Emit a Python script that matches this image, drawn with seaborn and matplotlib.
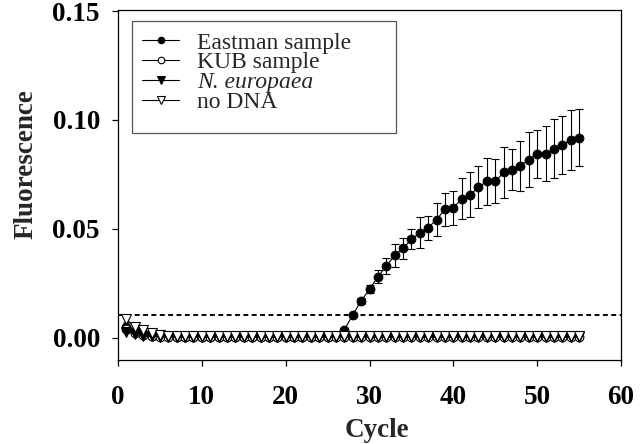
import matplotlib
matplotlib.use("Agg")
import matplotlib.pyplot as plt
from matplotlib.patches import Rectangle
import seaborn as sns

# cycles 1..55
cycles = list(range(1, 56))

eastman = [0.0050, 0.0030, 0.0020, 0.0010, 0.0008, 0.0006, 0.0005, 0.0005, 0.0005, 0.0005,
           0.0005, 0.0005, 0.0005, 0.0005, 0.0005, 0.0005, 0.0005, 0.0005, 0.0005, 0.0005,
           0.0005, 0.0005, 0.0005, 0.0005, 0.0005, 0.0006, 0.0037, 0.0105, 0.0169, 0.0224,
           0.0280, 0.0329, 0.0378, 0.0410, 0.0452, 0.0482, 0.0505, 0.0543, 0.0589, 0.0595,
           0.0639, 0.0657, 0.0692, 0.0718, 0.0718, 0.0759, 0.0772, 0.0790, 0.0818, 0.0845,
           0.0845, 0.0868, 0.0886, 0.0909, 0.0918]
eastman_err = [0.0010, 0.0006, 0.0004, 0.0003, 0.0003, 0.0003, 0.0003, 0.0003, 0.0003, 0.0003,
               0.0003, 0.0003, 0.0003, 0.0003, 0.0003, 0.0003, 0.0003, 0.0003, 0.0003, 0.0003,
               0.0003, 0.0003, 0.0003, 0.0003, 0.0003, 0.0003, 0.0008, 0.0010, 0.0012, 0.0018,
               0.0030, 0.0037, 0.0053, 0.0050, 0.0046, 0.0071, 0.0056, 0.0075, 0.0075, 0.0078,
               0.0094, 0.0104, 0.0097, 0.0109, 0.0101, 0.0119, 0.0095, 0.0114, 0.0127, 0.0110,
               0.0127, 0.0135, 0.0132, 0.0137, 0.0131]

kub = [0.0040, 0.0020, 0.0012, 0.0008, 0.0005, 0.0005, 0.0005, 0.0005, 0.0005, 0.0005,
       0.0005, 0.0005, 0.0005, 0.0005, 0.0005, 0.0005, 0.0005, 0.0005, 0.0005, 0.0005,
       0.0005, 0.0005, 0.0005, 0.0005, 0.0005, 0.0005, 0.0005, 0.0005, 0.0005, 0.0005,
       0.0005, 0.0005, 0.0005, 0.0005, 0.0005, 0.0005, 0.0005, 0.0005, 0.0005, 0.0005,
       0.0005, 0.0005, 0.0005, 0.0005, 0.0005, 0.0005, 0.0005, 0.0005, 0.0005, 0.0005,
       0.0005, 0.0005, 0.0005, 0.0005, 0.0005]

neuropaea = [0.0025, 0.0018, 0.0008, 0.0006, 0.0005, 0.0003, 0.0003, 0.0003, 0.0003, 0.0003,
             0.0003, 0.0003, 0.0003, 0.0003, 0.0003, 0.0003, 0.0003, 0.0003, 0.0003, 0.0003,
             0.0003, 0.0003, 0.0003, 0.0003, 0.0003, 0.0003, 0.0003, 0.0003, 0.0003, 0.0003,
             0.0003, 0.0003, 0.0003, 0.0003, 0.0003, 0.0003, 0.0003, 0.0003, 0.0003, 0.0003,
             0.0003, 0.0003, 0.0003, 0.0003, 0.0003, 0.0003, 0.0003, 0.0003, 0.0003, 0.0003,
             0.0003, 0.0003, 0.0003, 0.0003, 0.0003]

no_dna = [0.0085, 0.0050, 0.0035, 0.0022, 0.0015, 0.0010, 0.0008, 0.0006, 0.0006, 0.0006,
          0.0006, 0.0006, 0.0006, 0.0006, 0.0006, 0.0006, 0.0006, 0.0006, 0.0006, 0.0006,
          0.0006, 0.0006, 0.0006, 0.0006, 0.0006, 0.0006, 0.0006, 0.0006, 0.0006, 0.0006,
          0.0006, 0.0006, 0.0006, 0.0006, 0.0006, 0.0006, 0.0006, 0.0006, 0.0006, 0.0006,
          0.0006, 0.0006, 0.0006, 0.0006, 0.0006, 0.0006, 0.0006, 0.0006, 0.0006, 0.0006,
          0.0006, 0.0006, 0.0006, 0.0006, 0.0006]
no_dna_err = [0.0012, 0.0006, 0.0004, 0.0002, 0.0002, 0.0002, 0.0002, 0.0002, 0.0002, 0.0002,
              0.0002, 0.0002, 0.0002, 0.0002, 0.0002, 0.0002, 0.0002, 0.0002, 0.0002, 0.0002,
              0.0002, 0.0002, 0.0002, 0.0002, 0.0002, 0.0002, 0.0002, 0.0002, 0.0002, 0.0002,
              0.0002, 0.0002, 0.0002, 0.0002, 0.0002, 0.0002, 0.0002, 0.0002, 0.0002, 0.0002,
              0.0002, 0.0002, 0.0002, 0.0002, 0.0002, 0.0002, 0.0002, 0.0002, 0.0002, 0.0002,
              0.0002, 0.0002, 0.0002, 0.0002, 0.0002]

threshold = 0.0105
labels = ["Eastman sample", "KUB sample", "N. europaea", "no DNA"]
x_ticks = [0, 10, 20, 30, 40, 50, 60]
y_ticks = [0.00, 0.05, 0.10, 0.15]

sns.set_style("ticks")
plt.rcParams['font.family'] = ['Liberation Serif', 'DejaVu Serif']

fig = plt.figure(figsize=(6.42, 4.44), dpi=100)
ax = fig.add_axes([0.1838, 0.1892, 0.7835, 0.7883])

ax.axhline(threshold, color='black', linestyle=(0, (2.5, 1.8)), linewidth=1.4, zorder=1)

ax.errorbar(cycles, eastman, yerr=eastman_err, fmt='none', ecolor='black',
            elinewidth=0.8, capsize=3, capthick=0.8, zorder=2)
ax.errorbar(cycles, no_dna, yerr=no_dna_err, fmt='none', ecolor='black',
            elinewidth=0.6, capsize=2.5, capthick=0.6, zorder=2)

ms = 6.3
sns.lineplot(x=cycles, y=eastman, ax=ax, color='black', linewidth=0.8, marker='o',
             markersize=ms, markerfacecolor='black', markeredgecolor='black',
             label=labels[0], zorder=3)
sns.lineplot(x=cycles, y=kub, ax=ax, color='black', linewidth=0.8, marker='o',
             markersize=ms, markerfacecolor='white', markeredgecolor='black',
             markeredgewidth=0.8, label=labels[1], zorder=4)
sns.lineplot(x=cycles, y=neuropaea, ax=ax, color='black', linewidth=0.8, marker='v',
             markersize=ms + 0.5, markerfacecolor='black', markeredgecolor='black',
             label=labels[2], zorder=5)
sns.lineplot(x=cycles, y=no_dna, ax=ax, color='black', linewidth=0.8, marker='v',
             markersize=ms + 0.5, markerfacecolor='white', markeredgecolor='black',
             markeredgewidth=0.8, label=labels[3], zorder=6)

ax.set_xlim(0, 60)
ax.set_ylim(-0.0102, 0.1505)
ax.set_xticks(x_ticks)
ax.set_yticks(y_ticks)
ax.set_xticklabels([str(t) for t in x_ticks])
ax.set_yticklabels(["%.2f" % t for t in y_ticks])

for s in ax.spines.values():
    s.set_visible(True)
    s.set_color('black')
    s.set_linewidth(0.9)

ax.tick_params(axis='both', direction='out', length=4, width=0.9, colors='black',
               labelsize=19.5)
ax.tick_params(axis='x', pad=14)
ax.tick_params(axis='y', pad=9)
for t in ax.get_xticklabels() + ax.get_yticklabels():
    t.set_fontweight('bold')

ax.set_xlabel("Cycle", fontsize=19.5, fontweight='bold')
ax.set_ylabel("Fluorescence", fontsize=19.5, fontweight='bold')
ax.xaxis.set_label_coords(0.515, -0.165)
ax.yaxis.set_label_coords(-0.157, 0.56)

# legend box drawn separately (the original has extra room below and right)
ax.add_patch(Rectangle((0.0278, 0.6486), 0.5249, 0.32, transform=ax.transAxes,
                       facecolor='white', edgecolor='#555555', linewidth=0.9, zorder=7))
leg = ax.legend(loc='upper left', bbox_to_anchor=(0.0471, 0.937), borderaxespad=0,
                fontsize=17, frameon=False, handlelength=1.6, handletextpad=0.75,
                labelspacing=-0.07, borderpad=0, markerscale=0.75)
leg.set_zorder(8)
leg.get_texts()[2].set_fontstyle('italic')

fig.savefig("out.png", dpi=100)
